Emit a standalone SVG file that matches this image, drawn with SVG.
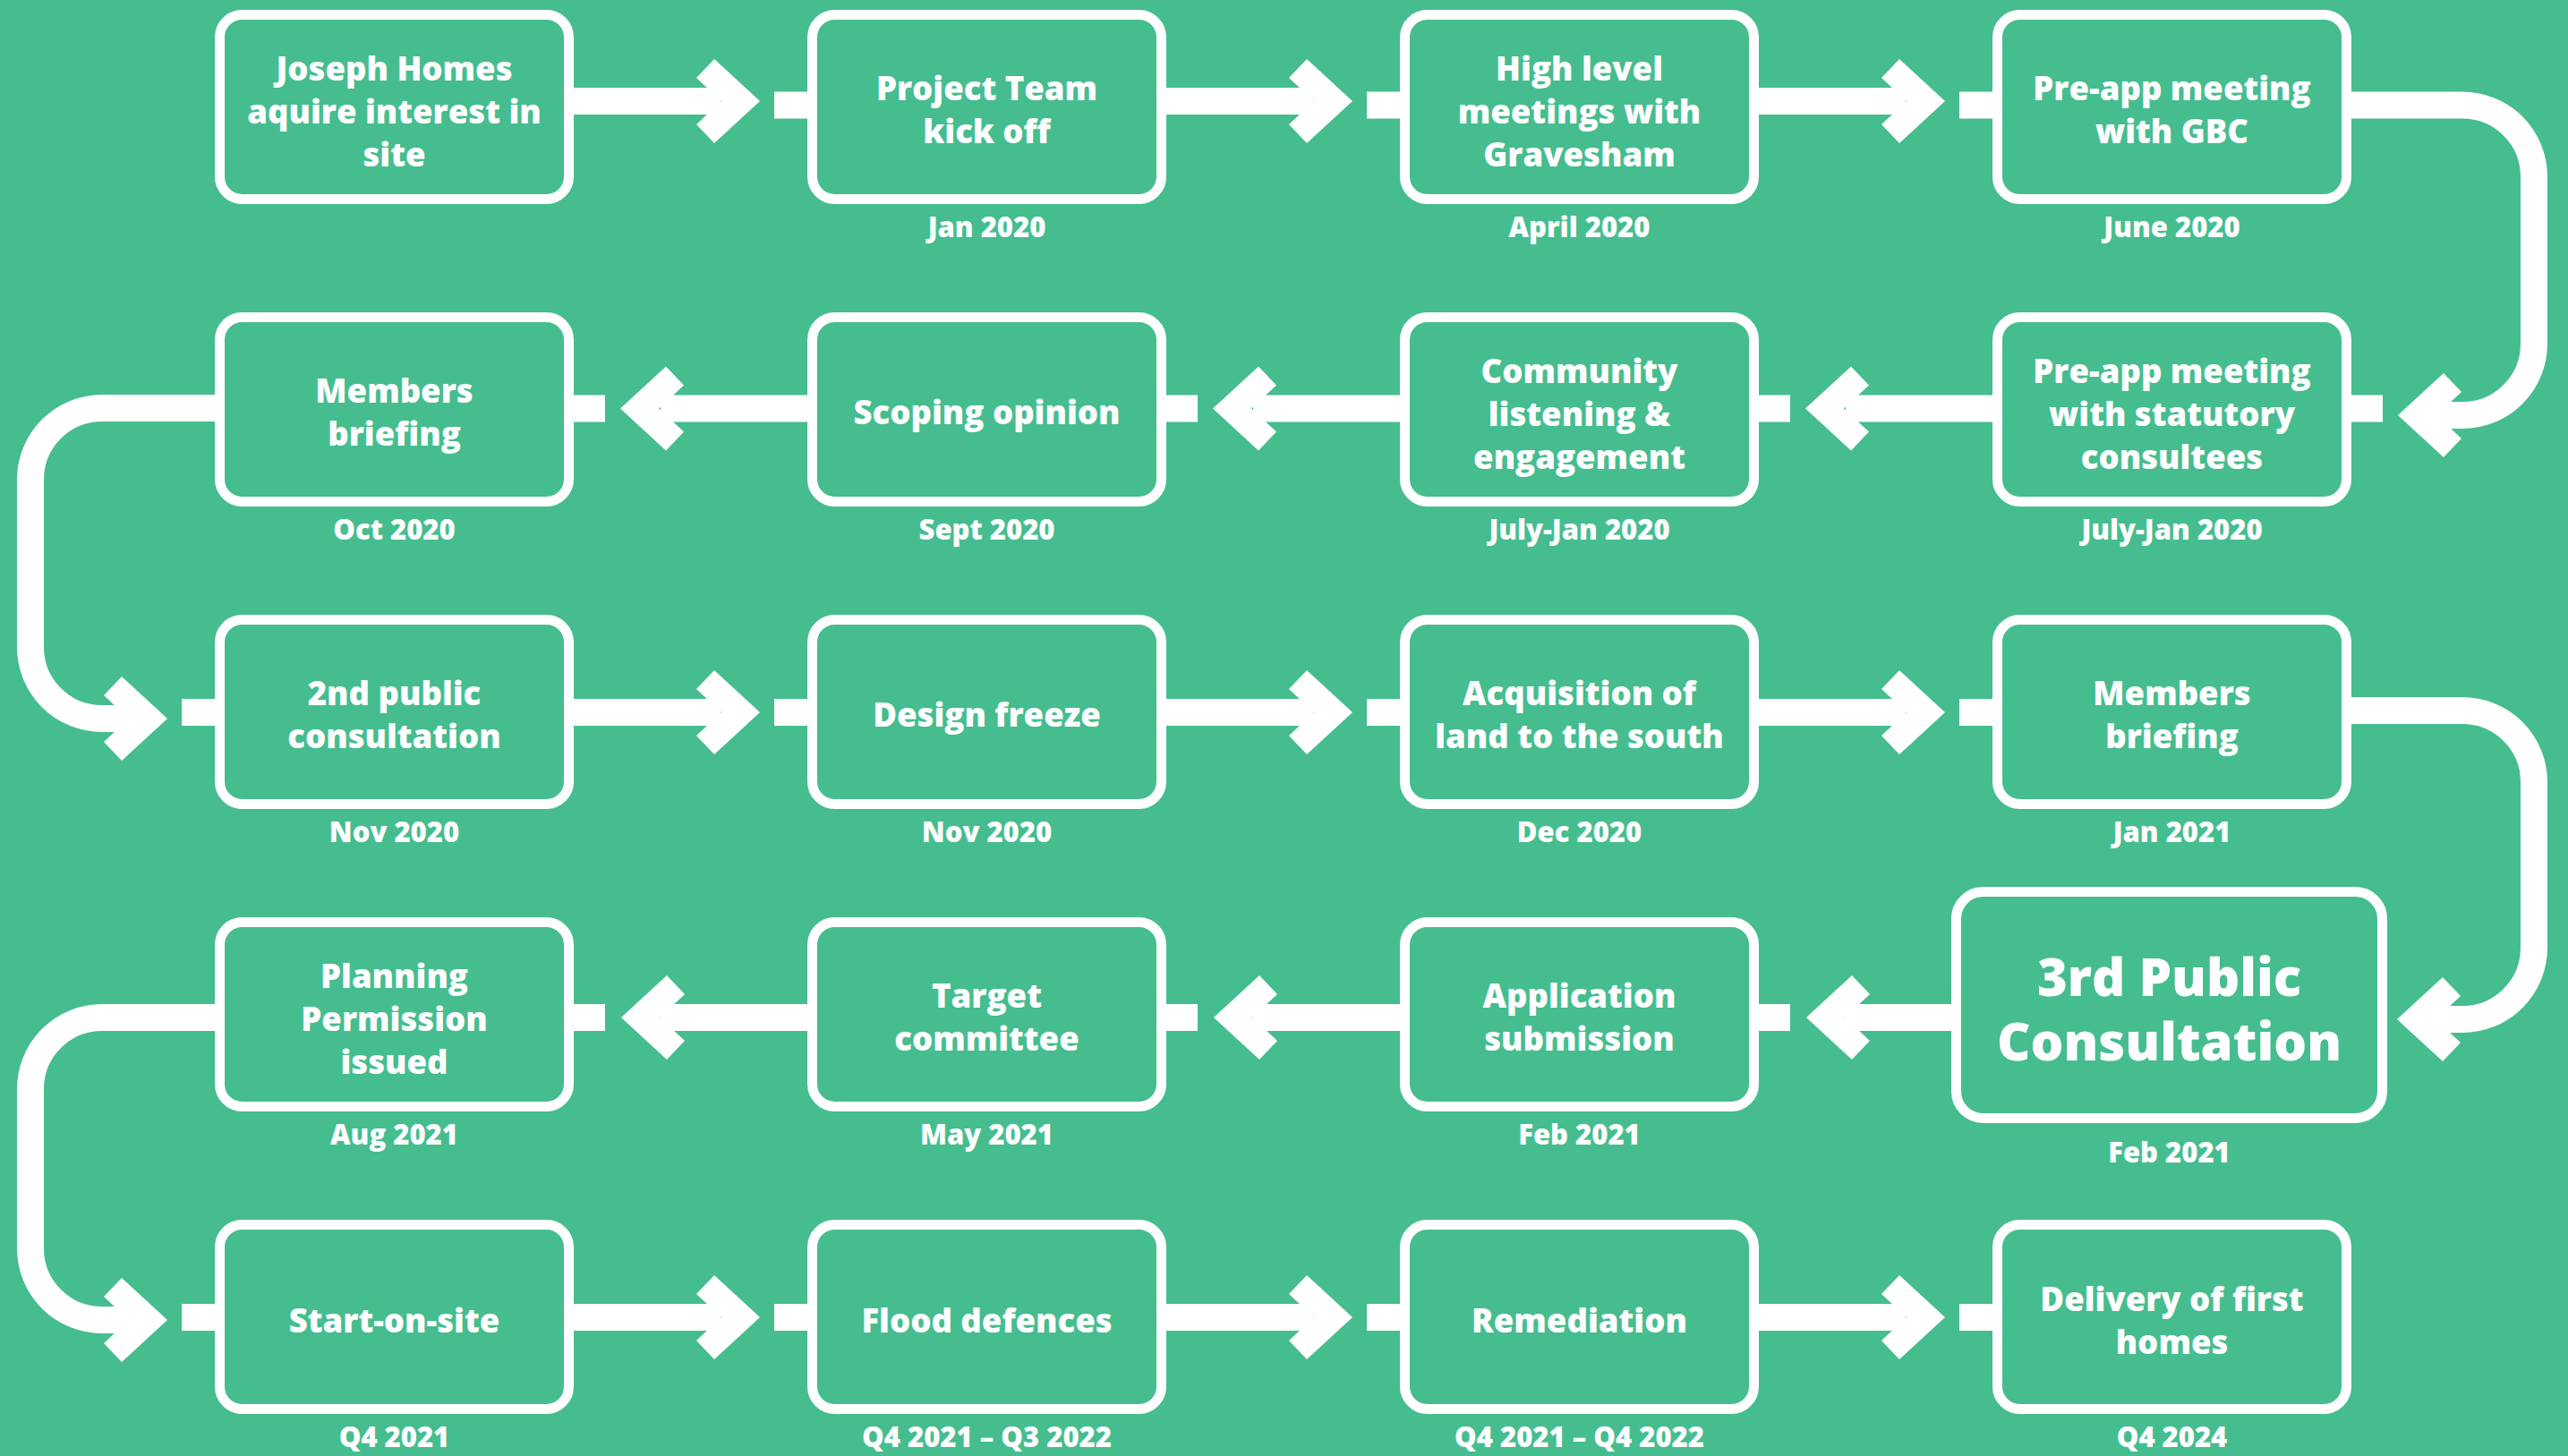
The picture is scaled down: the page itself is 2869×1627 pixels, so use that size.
<svg xmlns="http://www.w3.org/2000/svg" width="2869" height="1627" viewBox="0 0 2869 1627">
<style>
.box{fill:none;stroke:#fff;stroke-width:11}
.t{font-family:"Open Sans","Liberation Sans",sans-serif;font-weight:800;fill:#fff;text-anchor:middle;font-size:36.5px}
.big{font-size:58px}
.d{font-family:"Open Sans","Liberation Sans",sans-serif;font-weight:800;fill:#fff;text-anchor:middle;font-size:31px}
.ln{fill:none;stroke:#fff;stroke-width:30}
.ah{fill:#fff}
</style>
<defs>
<polygon id="chevR" points="-51,-47 0,0 -51,47 -71,26 -43,0 -71,-26"/>
<polygon id="chevL" points="51,-47 0,0 51,47 71,26 43,0 71,-26"/>
</defs>
<rect width="2869" height="1627" fill="#46BD8F"/>
<g id="connectors">
<!-- row 1 -->
<path class="ln" d="M636 113H805M1298 113H1467M1960 113H2129"/>
<path class="ln" d="M865 117.5H905M1527 117.5H1567M2189 117.5H2229"/>
<use href="#chevR" class="ah" x="849" y="113"/>
<use href="#chevR" class="ah" x="1511" y="113"/>
<use href="#chevR" class="ah" x="2173" y="113"/>
<path class="ln" d="M2620 117.5H2751A80 80 0 0 1 2831 197.5V384A80 80 0 0 1 2751 464H2722"/>
<use href="#chevL" class="ah" x="2679" y="464"/>
<!-- row 2 -->
<path class="ln" d="M2622 456.5H2662M1960 456.5H2000M1298 456.5H1338M636 456.5H676"/>
<path class="ln" d="M2231 456.5H2062M1569 456.5H1400M907 456.5H738"/>
<use href="#chevL" class="ah" x="2017" y="456.5"/>
<use href="#chevL" class="ah" x="1355" y="456.5"/>
<use href="#chevL" class="ah" x="693" y="456.5"/>
<path class="ln" d="M245 456H114A80 80 0 0 0 34 536V723A80 80 0 0 0 114 803H144"/>
<use href="#chevR" class="ah" x="187" y="803"/>
<!-- row 3 -->
<path class="ln" d="M203 796H245M865 796H905M1527 796H1567M2189 796H2229"/>
<path class="ln" d="M636 796H805M1298 796H1467M1960 796H2129"/>
<use href="#chevR" class="ah" x="849" y="796"/>
<use href="#chevR" class="ah" x="1511" y="796"/>
<use href="#chevR" class="ah" x="2173" y="796"/>
<path class="ln" d="M2620 794H2751A80 80 0 0 1 2831 874V1059A80 80 0 0 1 2751 1139H2721"/>
<use href="#chevL" class="ah" x="2678" y="1139"/>
<!-- row 4 -->
<path class="ln" d="M2185 1137H2062M1569 1137H1400M907 1137H738"/>
<path class="ln" d="M1960 1137H2000M1298 1137H1338M636 1137H676"/>
<use href="#chevL" class="ah" x="2018" y="1137"/>
<use href="#chevL" class="ah" x="1356" y="1137"/>
<use href="#chevL" class="ah" x="694" y="1137"/>
<path class="ln" d="M245 1137H114A80 80 0 0 0 34 1217V1395A80 80 0 0 0 114 1475H144"/>
<use href="#chevR" class="ah" x="187" y="1475"/>
<!-- row 5 -->
<path class="ln" d="M203 1472H245M865 1472H905M1527 1472H1567M2189 1472H2229"/>
<path class="ln" d="M636 1472H805M1298 1472H1467M1960 1472H2129"/>
<use href="#chevR" class="ah" x="849" y="1472"/>
<use href="#chevR" class="ah" x="1511" y="1472"/>
<use href="#chevR" class="ah" x="2173" y="1472"/>
</g>
<!-- row 1 -->
<g id="n1"><rect class="box" x="245.5" y="16.5" width="390" height="206" rx="25"/>
<text class="t" x="440.5" y="89.5">Joseph Homes</text><text class="t" x="440.5" y="137.5">aquire interest in</text><text class="t" x="440.5" y="185.5">site</text></g>
<g id="n2"><rect class="box" x="907.5" y="16.5" width="390" height="206" rx="25"/>
<text class="t" x="1102.5" y="112">Project Team</text><text class="t" x="1102.5" y="160">kick off</text>
<text class="d" x="1102.5" y="265">Jan 2020</text></g>
<g id="n3"><rect class="box" x="1569.5" y="16.5" width="390" height="206" rx="25"/>
<text class="t" x="1764.5" y="89.5">High level</text><text class="t" x="1764.5" y="137.5">meetings with</text><text class="t" x="1764.5" y="185.5">Gravesham</text>
<text class="d" x="1764.5" y="265">April 2020</text></g>
<g id="n4"><rect class="box" x="2231.5" y="16.5" width="390" height="206" rx="25"/>
<text class="t" x="2426.5" y="112">Pre-app meeting</text><text class="t" x="2426.5" y="160">with GBC</text>
<text class="d" x="2426.5" y="265">June 2020</text></g>
<!-- row 2 -->
<g id="n5"><rect class="box" x="245.5" y="354.5" width="390" height="206" rx="25"/>
<text class="t" x="440.5" y="450">Members</text><text class="t" x="440.5" y="498">briefing</text>
<text class="d" x="440.5" y="603">Oct 2020</text></g>
<g id="n6"><rect class="box" x="907.5" y="354.5" width="390" height="206" rx="25"/>
<text class="t" x="1102.5" y="474">Scoping opinion</text>
<text class="d" x="1102.5" y="603">Sept 2020</text></g>
<g id="n7"><rect class="box" x="1569.5" y="354.5" width="390" height="206" rx="25"/>
<text class="t" x="1764.5" y="427.5">Community</text><text class="t" x="1764.5" y="475.5">listening &amp;</text><text class="t" x="1764.5" y="523.5">engagement</text>
<text class="d" x="1764.5" y="603">July-Jan 2020</text></g>
<g id="n8"><rect class="box" x="2231.5" y="354.5" width="390" height="206" rx="25"/>
<text class="t" x="2426.5" y="427.5">Pre-app meeting</text><text class="t" x="2426.5" y="475.5">with statutory</text><text class="t" x="2426.5" y="523.5">consultees</text>
<text class="d" x="2426.5" y="603">July-Jan 2020</text></g>
<!-- row 3 -->
<g id="n9"><rect class="box" x="245.5" y="692.5" width="390" height="206" rx="25"/>
<text class="t" x="440.5" y="788">2nd public</text><text class="t" x="440.5" y="836">consultation</text>
<text class="d" x="440.5" y="941">Nov 2020</text></g>
<g id="n10"><rect class="box" x="907.5" y="692.5" width="390" height="206" rx="25"/>
<text class="t" x="1102.5" y="812">Design freeze</text>
<text class="d" x="1102.5" y="941">Nov 2020</text></g>
<g id="n11"><rect class="box" x="1569.5" y="692.5" width="390" height="206" rx="25"/>
<text class="t" x="1764.5" y="788">Acquisition of</text><text class="t" x="1764.5" y="836">land to the south</text>
<text class="d" x="1764.5" y="941">Dec 2020</text></g>
<g id="n12"><rect class="box" x="2231.5" y="692.5" width="390" height="206" rx="25"/>
<text class="t" x="2426.5" y="788">Members</text><text class="t" x="2426.5" y="836">briefing</text>
<text class="d" x="2426.5" y="941">Jan 2021</text></g>
<!-- row 4 -->
<g id="n13"><rect class="box" x="245.5" y="1030.5" width="390" height="206" rx="25"/>
<text class="t" x="440.5" y="1103.5">Planning</text><text class="t" x="440.5" y="1151.5">Permission</text><text class="t" x="440.5" y="1199.5">issued</text>
<text class="d" x="440.5" y="1279">Aug 2021</text></g>
<g id="n14"><rect class="box" x="907.5" y="1030.5" width="390" height="206" rx="25"/>
<text class="t" x="1102.5" y="1126">Target</text><text class="t" x="1102.5" y="1174">committee</text>
<text class="d" x="1102.5" y="1279">May 2021</text></g>
<g id="n15"><rect class="box" x="1569.5" y="1030.5" width="390" height="206" rx="25"/>
<text class="t" x="1764.5" y="1126">Application</text><text class="t" x="1764.5" y="1174">submission</text>
<text class="d" x="1764.5" y="1279">Feb 2021</text></g>
<g id="n16"><rect class="box" x="2185.5" y="996.5" width="476" height="253" rx="30"/>
<text class="t big" x="2423.5" y="1113">3rd Public</text><text class="t big" x="2423.5" y="1185">Consultation</text>
<text class="d" x="2423.5" y="1299">Feb 2021</text></g>
<!-- row 5 -->
<g id="n17"><rect class="box" x="245.5" y="1368.5" width="390" height="206" rx="25"/>
<text class="t" x="440.5" y="1489">Start-on-site</text>
<text class="d" x="440.5" y="1617">Q4 2021</text></g>
<g id="n18"><rect class="box" x="907.5" y="1368.5" width="390" height="206" rx="25"/>
<text class="t" x="1102.5" y="1489">Flood defences</text>
<text class="d" x="1102.5" y="1617">Q4 2021 – Q3 2022</text></g>
<g id="n19"><rect class="box" x="1569.5" y="1368.5" width="390" height="206" rx="25"/>
<text class="t" x="1764.5" y="1489">Remediation</text>
<text class="d" x="1764.5" y="1617">Q4 2021 – Q4 2022</text></g>
<g id="n20"><rect class="box" x="2231.5" y="1368.5" width="390" height="206" rx="25"/>
<text class="t" x="2426.5" y="1465">Delivery of first</text><text class="t" x="2426.5" y="1513">homes</text>
<text class="d" x="2426.5" y="1617">Q4 2024</text></g>
</svg>
